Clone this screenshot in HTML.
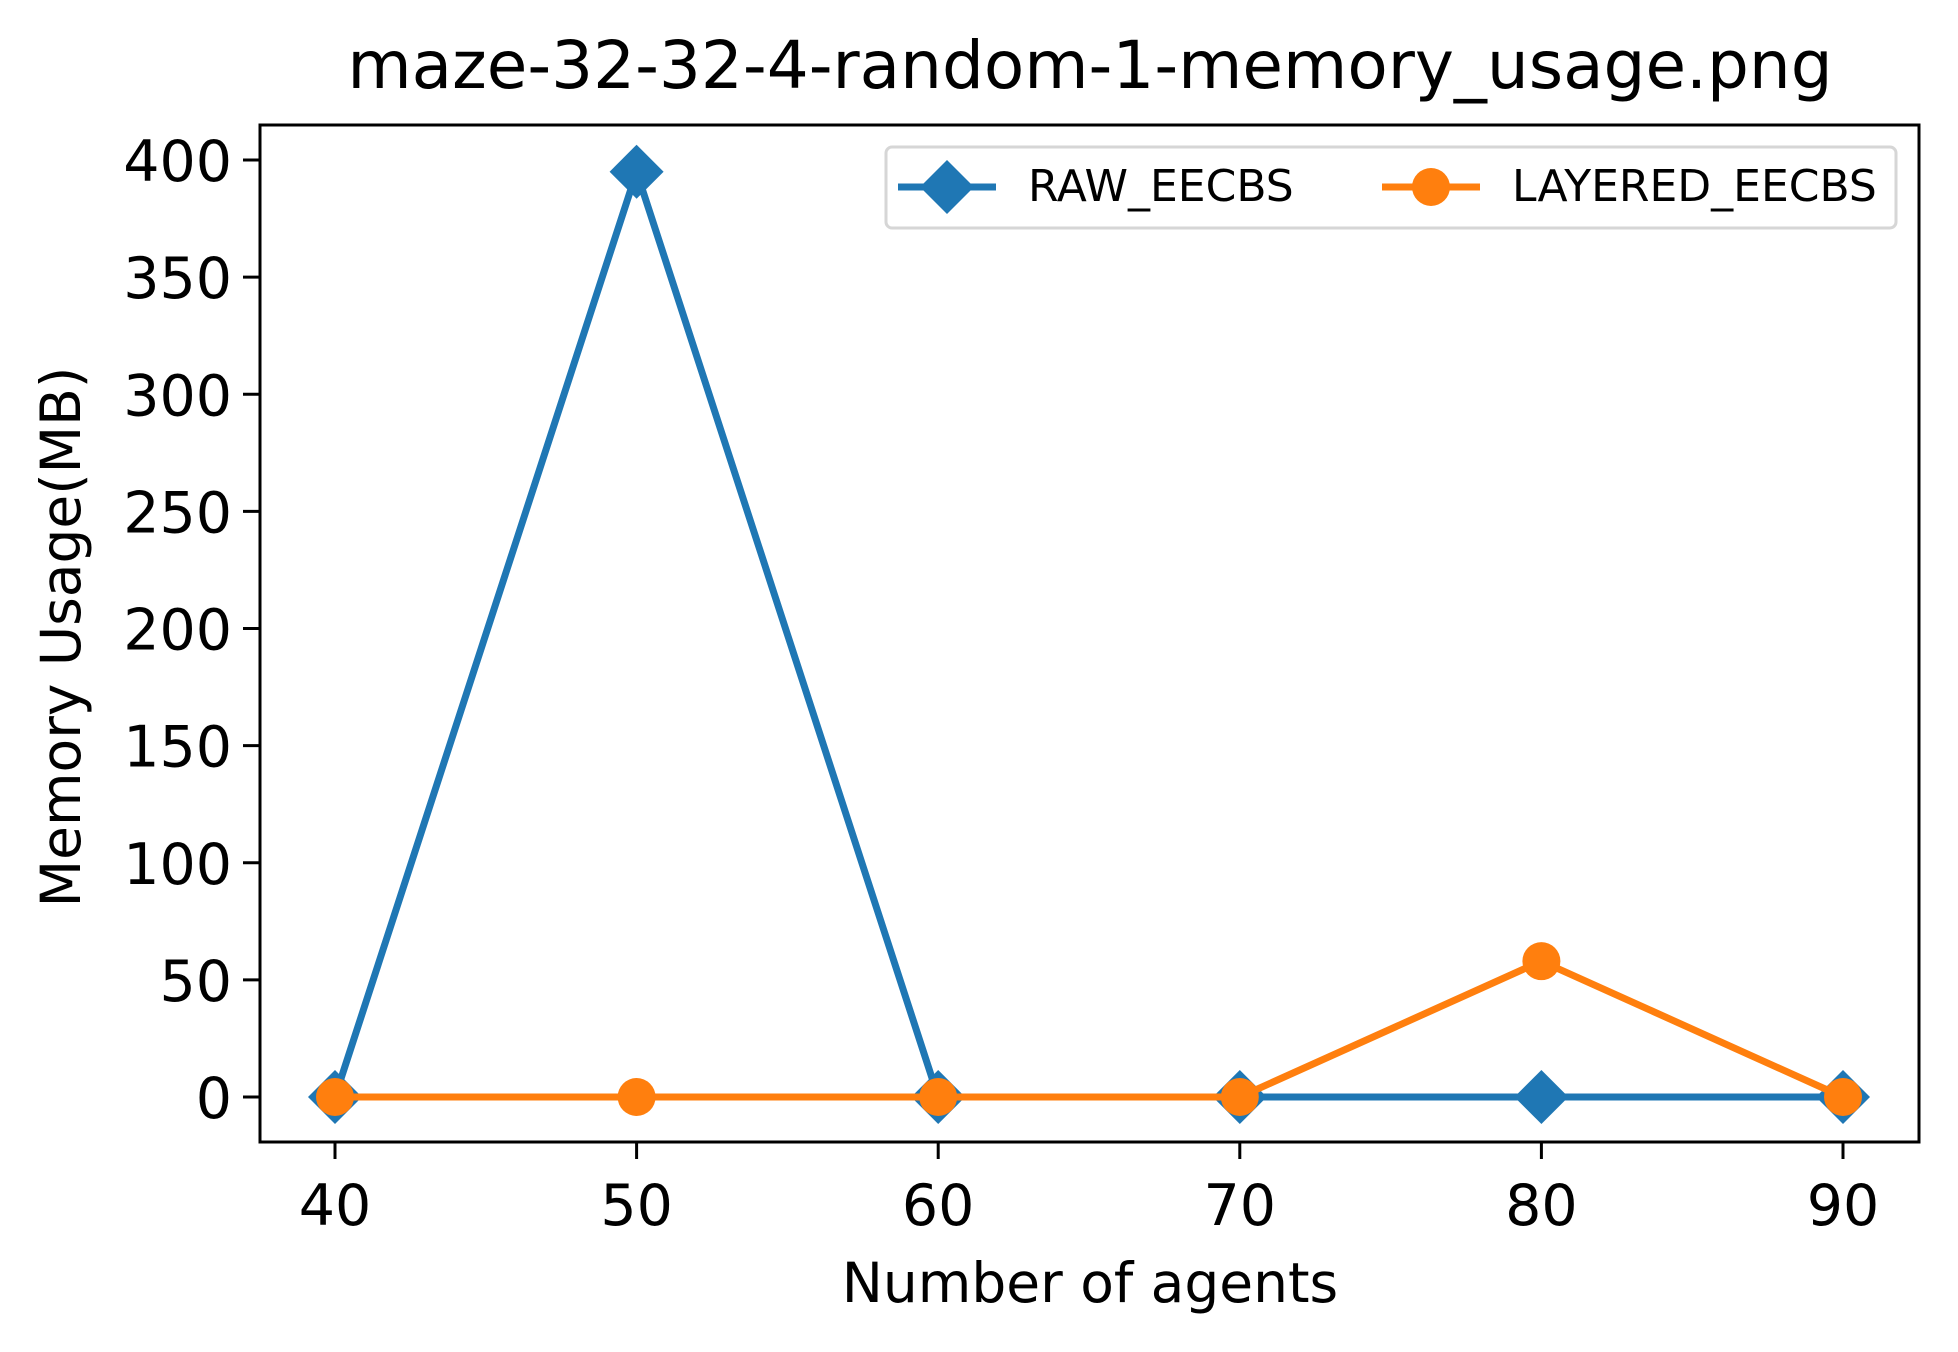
<!DOCTYPE html>
<html><head><meta charset="utf-8"><style>
html,body{margin:0;padding:0;background:#fff;width:1958px;height:1352px;overflow:hidden}
svg text{font-family:"DejaVu Sans","Liberation Sans",sans-serif;fill:#000}
</style></head><body>
<svg id="chart" width="1958" height="1352" viewBox="0 0 1958 1352" xmlns="http://www.w3.org/2000/svg">
<rect width="1958" height="1352" fill="#fff"/>
<text x="1090" y="88" font-size="66" text-anchor="middle">maze-32-32-4-random-1-memory_usage.png</text>
<g id="plot"></g>
<rect x="260" y="125" width="1659" height="1017" fill="none" stroke="#000" stroke-width="3"/>
<text x="1090" y="1302" font-size="55" text-anchor="middle">Number of agents</text>
<text transform="translate(80,637) rotate(-90)" font-size="55" text-anchor="middle">Memory Usage(MB)</text>
<g>
<rect x="886" y="147" width="1010" height="81" rx="6" fill="#fff" fill-opacity="0.8" stroke="#d6d6d6" stroke-width="3"/>
<line x1="898" y1="187" x2="996" y2="187" stroke="#1f77b4" stroke-width="7"/>
<polygon points="947,160 974,187 947,214 920,187" fill="#1f77b4"/>
<text x="1028" y="201" font-size="44">RAW_EECBS</text>
<line x1="1382" y1="187" x2="1480" y2="187" stroke="#ff7f0e" stroke-width="7"/>
<circle cx="1431" cy="187" r="19" fill="#ff7f0e"/>
<text x="1512" y="201" font-size="44">LAYERED_EECBS</text>
</g>
</svg>
<script>
const categories = [40, 50, 60, 70, 80, 90];
const rawValues = [0, 395, 0, 0, 0, 0];
const layeredValues = [0, 0, 0, 0, 58, 0];
const yTicks = [0, 50, 100, 150, 200, 250, 300, 350, 400];

const NS = 'http://www.w3.org/2000/svg';
const plot = document.getElementById('plot');
function xs(v){ return 335 + (v - 40) * (1843 - 335) / 50; }
function ys(v){ return 1097 - v * (1097 - 160) / 400; }
function mk(tag, attrs){ const e = document.createElementNS(NS, tag); for (const k in attrs) e.setAttribute(k, attrs[k]); plot.appendChild(e); return e; }

yTicks.forEach(t => {
  const l = mk('line', {x1: 243, x2: 260, y1: ys(t), y2: ys(t), stroke: '#000', 'stroke-width': 3});
  
  
  const tx = mk('text', {x: 232, y: ys(t) + 21, 'font-size': 57, 'text-anchor': 'end'});
  tx.textContent = t;
  
  
});
categories.forEach(c => {
  const l = mk('line', {x1: xs(c), x2: xs(c), y1: 1142, y2: 1159, stroke: '#000', 'stroke-width': 3});
  
  
  const tx = mk('text', {x: xs(c), y: 1225, 'font-size': 57, 'text-anchor': 'middle'});
  tx.textContent = c;
  
  
});

function series(vals, color, name, marker){
  const pts = categories.map((c, i) => xs(c) + ',' + ys(vals[i])).join(' ');
  const pl = mk('polyline', {points: pts, fill: 'none', stroke: color, 'stroke-width': 7, 'stroke-linejoin': 'round'});
  
  
  categories.forEach((c, i) => {
    const x = xs(c), y = ys(vals[i]);
    let m;
    if (marker === 'diamond') m = mk('polygon', {points: `${x},${y-27} ${x+27},${y} ${x},${y+27} ${x-27},${y}`, fill: color});
    else m = mk('circle', {cx: x, cy: y, r: 19, fill: color});
    
    
  });
}
series(rawValues, '#1f77b4', 'raw-eecbs', 'diamond');
series(layeredValues, '#ff7f0e', 'layered-eecbs', 'circle');
</script>
</body></html>
